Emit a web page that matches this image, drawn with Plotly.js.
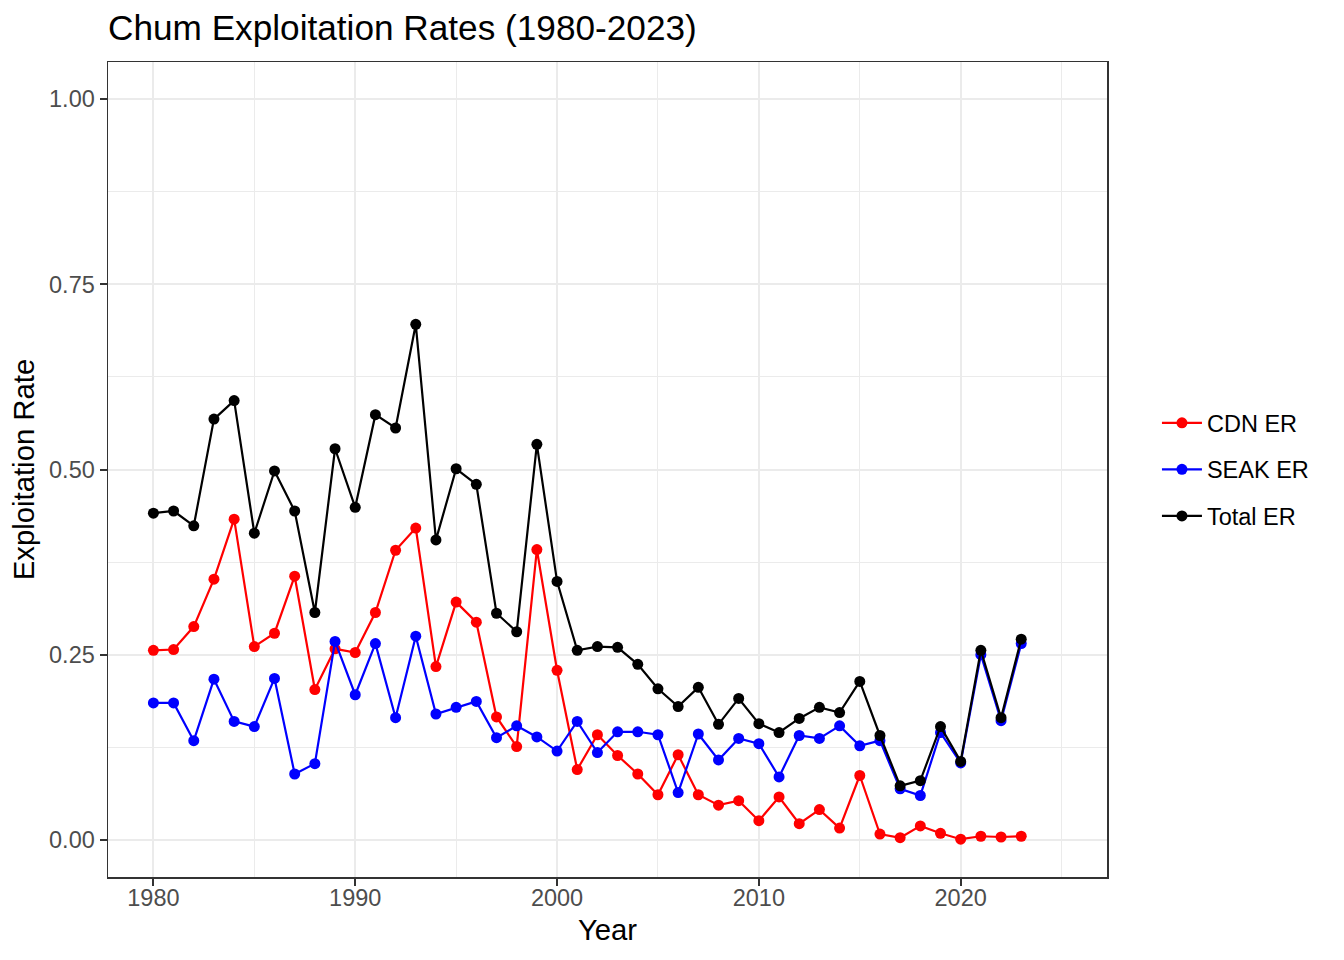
<!DOCTYPE html>
<html>
<head>
<meta charset="utf-8">
<script src="https://cdn.plot.ly/plotly-3.0.1.min.js"></script>
<style>html,body{margin:0;padding:0;background:#fff;}#chart{width:1344px;height:960px;}</style>
</head>
<body>
<div id="chart"></div>
<script>
const years = [1980,1981,1982,1983,1984,1985,1986,1987,1988,1989,
  1990,1991,1992,1993,1994,1995,1996,1997,1998,1999,
  2000,2001,2002,2003,2004,2005,2006,2007,2008,2009,
  2010,2011,2012,2013,2014,2015,2016,2017,2018,2019,
  2020,2021,2022,2023];

const cdnER = [0.256,0.257,0.288,0.352,0.433,0.261,0.279,0.356,0.203,0.258,
  0.253,0.307,0.391,0.421,0.234,0.321,0.294,0.166,0.126,0.392,
  0.229,0.095,0.142,0.114,0.089,0.061,0.115,0.061,0.047,0.053,
  0.026,0.058,0.022,0.041,0.016,0.087,0.008,0.003,0.019,0.009,
  0.001,0.005,0.004,0.005];

const seakER = [0.185,0.185,0.134,0.217,0.160,0.153,0.218,0.089,0.103,0.268,
  0.196,0.265,0.165,0.275,0.170,0.179,0.187,0.138,0.154,0.139,
  0.120,0.160,0.118,0.146,0.146,0.142,0.064,0.143,0.108,0.137,
  0.130,0.085,0.141,0.137,0.154,0.127,0.134,0.069,0.060,0.145,
  0.104,0.250,0.161,0.265];

const totalER = [0.441,0.444,0.424,0.568,0.593,0.414,0.498,0.444,0.307,0.528,
  0.449,0.574,0.556,0.696,0.405,0.501,0.480,0.306,0.281,0.534,
  0.349,0.256,0.261,0.260,0.237,0.204,0.180,0.206,0.156,0.191,
  0.157,0.145,0.164,0.179,0.172,0.214,0.141,0.073,0.080,0.153,
  0.106,0.256,0.165,0.271];

const seriesNames = ['CDN ER','SEAK ER','Total ER'];
const seriesColors = ['#FF0000','#0000FF','#000000'];
const seriesValues = [cdnER, seakER, totalER];

const traces = seriesValues.map((vals, i) => ({
  type: 'scatter',
  mode: 'lines+markers',
  name: seriesNames[i],
  legendgroup: seriesNames[i],
  x: years,
  y: vals,
  line: {color: seriesColors[i], width: 2.2},
  marker: {color: seriesColors[i], size: 11}
}));

const FONT = 'Liberation Sans, Arial, Helvetica, sans-serif';

const layout = {
  width: 1344,
  height: 960,
  paper_bgcolor: '#ffffff',
  plot_bgcolor: '#ffffff',
  font: {family: FONT, color: '#000000'},
  margin: {l: 108, r: 237, t: 62, b: 83, pad: 0},
  title: {
    text: 'Chum Exploitation Rates (1980-2023)',
    font: {size: 35.2, color: '#000000', family: FONT},
    x: 108/1344, xref: 'container', xanchor: 'left',
    y: 1 - 28/960, yref: 'container', yanchor: 'middle'
  },
  xaxis: {
    range: [1977.75, 2027.25],
    tick0: 1980, dtick: 10,
    showgrid: true, gridcolor: '#EBEBEB', gridwidth: 2,
    minor: {dtick: 5, tick0: 1980, showgrid: true, gridcolor: '#EBEBEB', gridwidth: 1, ticks: ''},
    zeroline: false,
    showline: true, linecolor: '#333333', linewidth: 1.5, mirror: true,
    ticks: 'outside', ticklen: 7, tickwidth: 2, tickcolor: '#333333',
    ticklabelstandoff: -8,
    tickfont: {size: 23.5, color: '#4D4D4D', family: FONT},
    title: {text: 'Year', font: {size: 29.3, color: '#000000', family: FONT}, standoff: 10}
  },
  yaxis: {
    range: [-0.05, 1.05],
    tick0: 0, dtick: 0.25, tickformat: '.2f',
    showgrid: true, gridcolor: '#EBEBEB', gridwidth: 2,
    minor: {dtick: 0.125, tick0: 0, showgrid: true, gridcolor: '#EBEBEB', gridwidth: 1, ticks: ''},
    zeroline: false,
    showline: true, linecolor: '#333333', linewidth: 1.5, mirror: true,
    ticks: 'outside', ticklen: 7, tickwidth: 2, tickcolor: '#333333',
    tickfont: {size: 23.5, color: '#4D4D4D', family: FONT},
    title: {text: 'Exploitation Rate', font: {size: 29.3, color: '#000000', family: FONT}, standoff: 6}
  },
  showlegend: true,
  legend: {
    x: 1.05, xanchor: 'left', y: 0.5, yanchor: 'middle',
    font: {size: 23.5, color: '#000000', family: FONT},
    bgcolor: 'rgba(0,0,0,0)', borderwidth: 0,
    itemwidth: 40,
    tracegroupgap: 13
  }
};

Plotly.newPlot('chart', traces, layout, {displayModeBar: false, staticPlot: true});
</script>
</body>
</html>
